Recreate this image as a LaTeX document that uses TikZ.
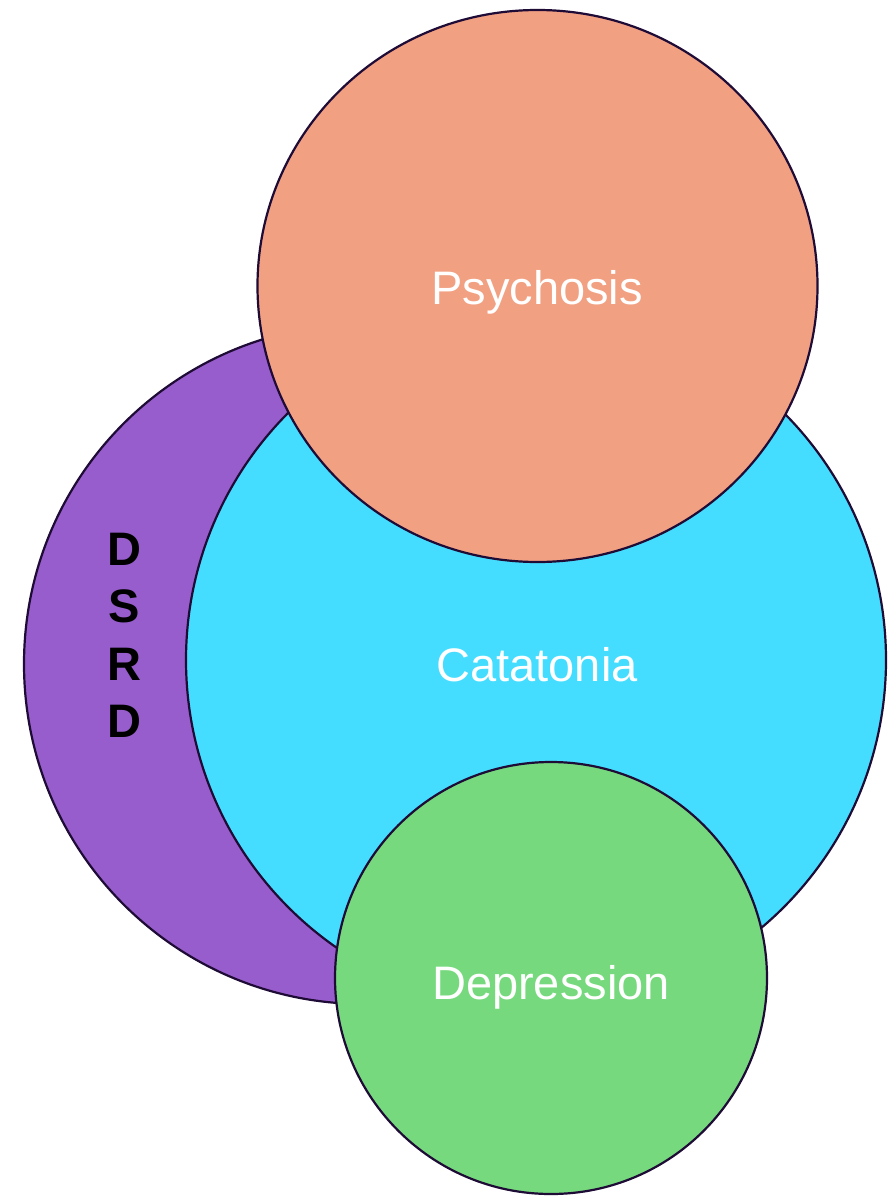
\documentclass[tikz,border=0pt]{standalone}
\usepackage{fontspec}
\setmainfont{Liberation Sans}
\definecolor{outl}{HTML}{1E0B36}
\definecolor{dsrdc}{HTML}{985DCC}
\definecolor{catc}{HTML}{45DDFF}
\definecolor{psyc}{HTML}{F2A082}
\definecolor{depc}{HTML}{77D97E}
\begin{document}
\begin{tikzpicture}[x=1pt,y=-1pt,
  set/.style={draw=outl, line width=2.2pt},
  lbl/.style={text=white, font=\fontsize{47}{56}\selectfont, anchor=base, inner sep=0pt},
  vlbl/.style={text=black, font=\fontsize{47}{56}\selectfont\bfseries, anchor=base, inner sep=0pt}]
\useasboundingbox (0,0) rectangle (887,1196);
\fill[white] (0,0) rectangle (887,1196);
\begin{scope}
\clip (0,0) rectangle (887,1196);
\filldraw[set, fill=dsrdc] (364,664) circle (340);
\filldraw[set, fill=catc] (536,660) circle (350);
\filldraw[set, fill=psyc] (537.5,286) ellipse (280 and 276);
\filldraw[set, fill=depc] (551,978) circle (216);
\end{scope}
\node[lbl] (psy) at (537,304) {Psychosis};
\node[lbl] (cat) at (537,681) {Catatonia};
\node[lbl] (dep) at (551,999) {Depression};
\node[vlbl] (d1) at (124,565) {D};
\node[vlbl] (s1) at (124,622) {S};
\node[vlbl] (r1) at (124,680) {R};
\node[vlbl] (d2) at (124,737) {D};
\end{tikzpicture}
\end{document}
